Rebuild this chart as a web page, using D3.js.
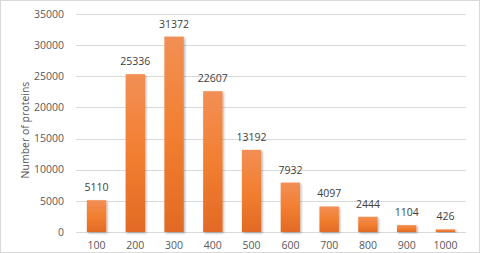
<!DOCTYPE html>
<html>
<head>
<meta charset="utf-8">
<script src="https://cdn.jsdelivr.net/npm/d3@7"></script>
<style>
  body { margin: 0; background: #fff; }
  text { font-family: "Open Sans", "Noto Sans", sans-serif; }
</style>
</head>
<body>
<div id="chart"></div>
<script>
// protein length bins and counts
const bins = ["100", "200", "300", "400", "500", "600", "700", "800", "900", "1000"];
const counts = [5110, 25336, 31372, 22607, 13192, 7932, 4097, 2444, 1104, 426];
const yTicks = [0, 5000, 10000, 15000, 20000, 25000, 30000, 35000];

const W = 481, H = 253;
const margin = { top: 14, right: 15, bottom: 21, left: 76 };
const width = W - margin.left - margin.right;
const height = H - margin.top - margin.bottom;

const svg = d3.select("#chart").append("svg")
    .attr("width", W)
    .attr("height", H);

// outer border
svg.append("rect")
    .attr("x", 0.5).attr("y", 0.5)
    .attr("width", W - 2).attr("height", H - 1)
    .attr("fill", "none")
    .attr("stroke", "#d9d9d9");

const defs = svg.append("defs");
const grad = defs.append("linearGradient")
    .attr("id", "barGrad")
    .attr("x1", 0).attr("y1", 0).attr("x2", 0).attr("y2", 1);
grad.append("stop").attr("offset", "0%").attr("stop-color", "#f28f55");
grad.append("stop").attr("offset", "50%").attr("stop-color", "#f27f30");
grad.append("stop").attr("offset", "100%").attr("stop-color", "#e26a25");

const shadow = defs.append("filter").attr("id", "shadow")
    .attr("x", "-20%").attr("y", "-10%").attr("width", "150%").attr("height", "130%");
shadow.append("feDropShadow")
    .attr("dx", 1.2).attr("dy", 1.2).attr("stdDeviation", 1)
    .attr("flood-color", "#000").attr("flood-opacity", 0.3);

const g = svg.append("g")
    .attr("transform", "translate(" + margin.left + "," + margin.top + ")");

const x = d3.scaleBand()
    .domain(bins)
    .range([0, width])
    .paddingInner(0.5)
    .paddingOuter(0.28);

const y = d3.scaleLinear()
    .domain([0, 35000])
    .range([height, 0]);

// gridlines
g.selectAll(".grid")
    .data(yTicks)
    .enter().append("line")
    .attr("class", "grid")
    .attr("x1", 0).attr("x2", width)
    .attr("y1", d => Math.round(y(d)) + 0.5)
    .attr("y2", d => Math.round(y(d)) + 0.5)
    .attr("stroke", "#d9d9d9")
    .attr("stroke-width", 1);

// y tick labels
g.selectAll(".ytick")
    .data(yTicks)
    .enter().append("text")
    .attr("class", "ytick")
    .attr("x", -12)
    .attr("y", d => y(d))
    .attr("dy", "0.35em")
    .attr("text-anchor", "end")
    .attr("font-size", 10.5)
    .attr("fill", "#595959")
    .text(d => d);

// x labels
g.selectAll(".xtick")
    .data(bins)
    .enter().append("text")
    .attr("class", "xtick")
    .attr("x", d => x(d) + x.bandwidth() / 2)
    .attr("y", height + 17)
    .attr("text-anchor", "middle")
    .attr("font-size", 10.5)
    .attr("fill", "#595959")
    .text(d => d);

// bars
g.selectAll(".bar")
    .data(counts)
    .enter().append("rect")
    .attr("class", "bar")
    .attr("x", (d, i) => x(bins[i]))
    .attr("y", d => y(d))
    .attr("width", x.bandwidth())
    .attr("height", d => height - y(d))
    .attr("fill", "url(#barGrad)")
    .attr("filter", "url(#shadow)");

// value labels
g.selectAll(".val")
    .data(counts)
    .enter().append("text")
    .attr("class", "val")
    .attr("x", (d, i) => x(bins[i]) + x.bandwidth() / 2)
    .attr("y", d => y(d) - 9)
    .attr("text-anchor", "middle")
    .attr("font-size", 10.5)
    .attr("fill", "#404040")
    .text(d => d);

// axis title
svg.append("text")
    .attr("transform", "translate(29," + (margin.top + height / 2 + 7) + ") rotate(-90)")
    .attr("text-anchor", "middle")
    .attr("font-size", 10.5)
    .attr("fill", "#595959")
    .text("Number of proteins");
</script>
</body>
</html>
